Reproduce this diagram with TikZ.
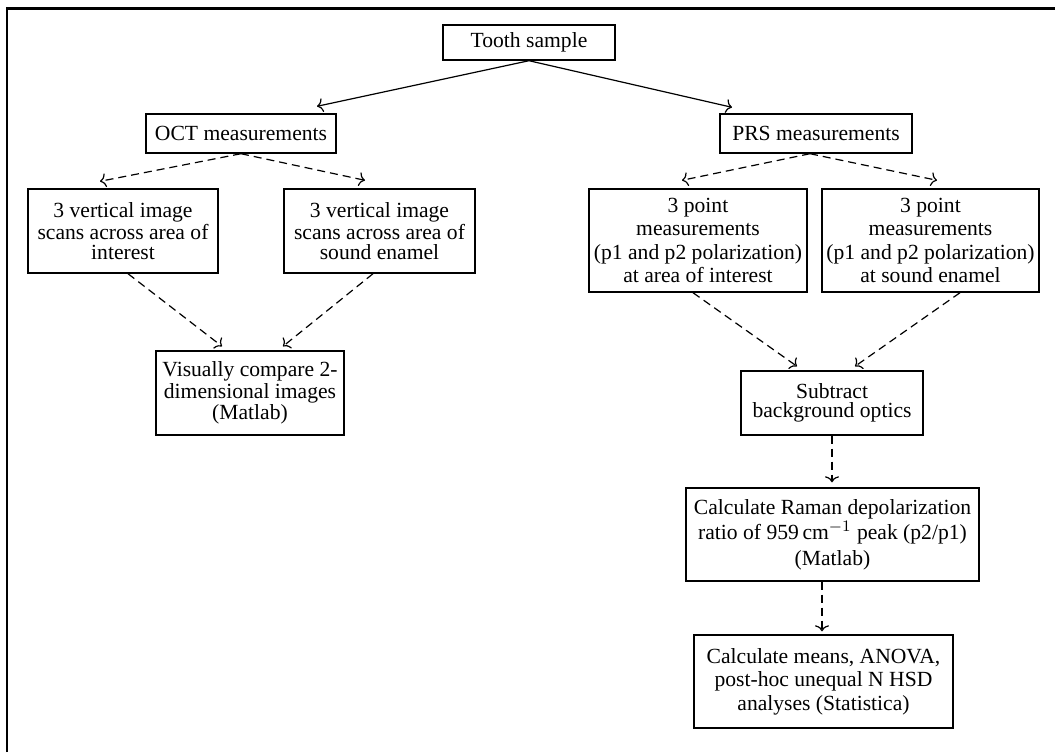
\documentclass[tikz,border=0pt]{standalone}
\usepackage{amssymb, amsmath}
\usepackage{fontspec}
\setmainfont{Liberation Serif}
\usepackage{tikz}
\usetikzlibrary{positioning}
\usetikzlibrary{calc}
\usetikzlibrary{arrows.meta}

\begin{document}
\begin{tikzpicture}[x=0.5pt,y=-0.5pt,
  box/.style={draw,line width=0.7pt,align=center,inner sep=0pt,
    font=\fontsize{10.8}{11.8}\selectfont},
  tight/.style={font=\fontsize{10.8}{9.8}\selectfont},
  solidarr/.style={line width=0.6pt,-{To[length=3pt,width=7pt]}},
  dasharr/.style={line width=0.6pt,dash pattern=on 4pt off 2.5pt,-{To[length=3pt,width=7pt]}}]
\useasboundingbox (0,0) rectangle (1055,752);
\draw[line width=1.1pt] (7,752) -- (7,8.5) -- (1055,8.5);
% top level
\node[box,minimum width=86pt,minimum height=17.5pt] (tooth) at (529,42.5) {Tooth sample};
\node[box,minimum width=95pt,minimum height=19.5pt] (oct) at (241,133.5) {OCT measurements};
\node[box,minimum width=96pt,minimum height=19.5pt] (prs) at (816,133.5) {PRS measurements};
% OCT branch
\node[box,tight,minimum width=95pt,minimum height=42pt] (octa) at (123,231)
  {3 vertical image\\scans across area of\\interest};
\node[box,tight,minimum width=95.5pt,minimum height=42pt] (octb) at (379.5,231)
  {3 vertical image\\scans across area of\\sound enamel};
\node[box,tight,minimum width=94pt,minimum height=42pt] (vis) at (250,393)
  {Visually compare 2-\\dimensional images\\(Matlab)};
% PRS branch
\node[box,minimum width=109pt,minimum height=51.5pt] (prsa) at (698,240.5)
  {3 point\\measurements\\(p1 and p2 polarization)\\at area of interest};
\node[box,minimum width=108.5pt,minimum height=51.5pt] (prsb) at (930.5,240.5)
  {3 point\\measurements\\(p1 and p2 polarization)\\at sound enamel};
\node[box,tight,minimum width=91pt,minimum height=32pt] (sub) at (832,403)
  {Subtract\\background optics};
\node[box,font=\fontsize{10.8}{12.8}\selectfont,minimum width=146.5pt,minimum height=46.5pt] (raman) at (832.5,534.5)
  {Calculate Raman depolarization\\ratio of 959\,cm$^{-1}$ peak (p2/p1)\\(Matlab)};
\node[box,minimum width=129.5pt,minimum height=46.5pt] (means) at (823.5,681.5)
  {Calculate means, ANOVA,\\post-hoc unequal N HSD\\analyses (Statistica)};
% connectors
\draw[solidarr] (tooth.south) -- ($(oct.north)+(76,-7)$);
\draw[solidarr] (tooth.south) -- ($(prs.north)+(-84,-6)$);
\draw[dasharr] (oct.south) -- ($(octa.north)+(-23,-7)$);
\draw[dasharr] (oct.south) -- ($(octb.north)+(-14.5,-8)$);
\draw[dasharr] ($(prs.south)+(-6,0)$) -- ($(prsa.north)+(-16,-8)$);
\draw[dasharr] ($(prs.south)+(-6,0)$) -- ($(prsb.north)+(6.5,-8)$);
\draw[dasharr] ($(octa.south)+(5,0)$) -- ($(vis.north)+(-28,-4)$);
\draw[dasharr] ($(octb.south)+(-6.5,0)$) -- ($(vis.north)+(33,-4)$);
\draw[dasharr] ($(prsa.south)+(-5,0)$) -- ($(sub.north)+(-35,-4)$);
\draw[dasharr] ($(prsb.south)+(29.5,0)$) -- ($(sub.north)+(23,-4)$);
\draw[dasharr] (sub.south) -- ($(raman.north)+(-0.5,-5)$);
\draw[dasharr] ($(raman.south)+(-10.5,0)$) -- ($(means.north)+(-1.5,-3)$);
\end{tikzpicture}
\end{document}
